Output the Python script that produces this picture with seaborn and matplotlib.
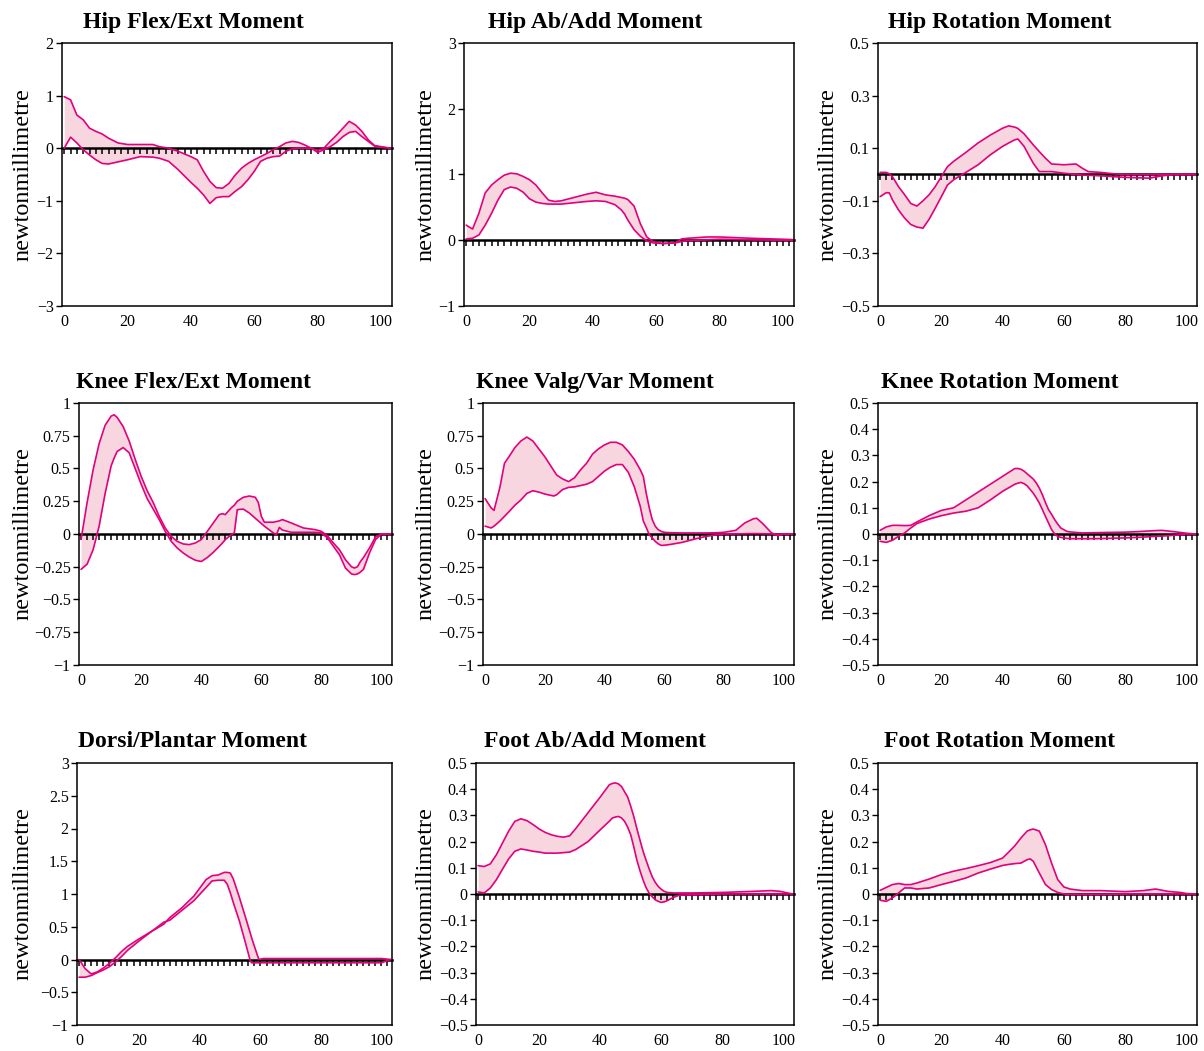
import matplotlib
matplotlib.use("Agg")
import matplotlib.pyplot as plt
import seaborn as sns

# ---- data (x = % of cycle, band = lower/upper curve) ----
hip_flex_x = [0, 2, 4, 6, 8, 10, 12, 14, 17, 20, 24, 28, 30, 33, 36, 40, 42, 44, 46, 48,
              50, 52, 54, 56, 58, 60, 62, 64, 66, 68, 70, 72, 74, 76, 78, 80, 82, 84, 86, 88,
              90, 92, 94, 96, 98, 100, 103]
hip_flex_hi = [0.98, 0.92, 0.63, 0.54, 0.38, 0.32, 0.27, 0.19, 0.10, 0.07, 0.07, 0.07, 0.03, 0.0, -0.06,
               -0.16, -0.22, -0.44, -0.63, -0.75, -0.76, -0.67, -0.51, -0.38, -0.29, -0.22, -0.16, -0.10,
               -0.03, 0.03, 0.10, 0.13, 0.11, 0.06, 0.0, -0.04, 0.0, 0.13, 0.25, 0.38, 0.51, 0.44, 0.32,
               0.16, 0.05, 0.03, 0.0]
hip_flex_lo = [0.0, 0.21, 0.10, -0.03, -0.13, -0.22, -0.29, -0.30, -0.26, -0.22, -0.16, -0.17, -0.19, -0.25,
               -0.41, -0.65, -0.76, -0.89, -1.05, -0.94, -0.92, -0.92, -0.82, -0.73, -0.60, -0.44, -0.25,
               -0.19, -0.16, -0.15, -0.06, -0.01, 0.0, 0.0, 0.0, -0.08, -0.03, 0.03, 0.11, 0.22, 0.30, 0.32,
               0.22, 0.13, 0.04, 0.02, 0.0]

hip_abd_x = [0, 2, 4, 6, 8, 10, 12, 14, 16, 18, 20, 22, 24, 26, 28, 30, 34, 38, 41, 44,
             47, 49, 50, 51, 53, 55, 57, 59, 62, 66, 68, 70, 76, 80, 90, 100, 103]
hip_abd_hi = [0.23, 0.17, 0.41, 0.72, 0.84, 0.92, 0.99, 1.02, 1.01, 0.97, 0.92, 0.84, 0.72, 0.61, 0.59,
              0.60, 0.65, 0.70, 0.73, 0.69, 0.67, 0.65, 0.64, 0.62, 0.52, 0.25, 0.05, -0.02, -0.05, -0.04,
              0.02, 0.03, 0.05, 0.05, 0.03, 0.015, 0.01]
hip_abd_lo = [0.02, 0.03, 0.08, 0.23, 0.41, 0.61, 0.77, 0.81, 0.79, 0.73, 0.63, 0.58, 0.56, 0.55, 0.55,
              0.55, 0.57, 0.59, 0.60, 0.59, 0.54, 0.46, 0.40, 0.31, 0.16, 0.06, -0.01, -0.04, -0.05, -0.04,
              -0.02, -0.005, 0.005, 0.015, 0.005, 0.0, 0.0]

hip_rot_x = [0, 2, 3, 4, 6, 8, 10, 12, 14, 16, 18, 20, 22, 24, 28, 32, 36, 40, 42, 44,
             45, 47, 50, 52, 54, 56, 60, 64, 66, 68, 72, 76, 80, 88, 92, 96, 100, 103]
hip_rot_hi = [0.008, 0.008, 0.003, -0.008, -0.046, -0.077, -0.11, -0.12, -0.10, -0.077, -0.046, -0.008,
              0.03, 0.05, 0.084, 0.12, 0.15, 0.176, 0.185, 0.18, 0.175, 0.155, 0.113, 0.087, 0.062, 0.04,
              0.037, 0.04, 0.024, 0.011, 0.008, 0.003, 0.0, 0.0, 0.0, 0.0, 0.0, 0.0]
hip_rot_lo = [-0.084, -0.069, -0.07, -0.096, -0.135, -0.166, -0.19, -0.20, -0.204, -0.17, -0.128, -0.084,
              -0.04, -0.02, 0.008, 0.037, 0.075, 0.107, 0.12, 0.132, 0.135, 0.107, 0.043, 0.011, 0.011,
              0.011, 0.005, 0.0, -0.002, -0.003, -0.005, -0.008, -0.011, -0.014, -0.005, 0.0, 0.0, 0.0]

knee_flex_x = [0, 2, 4, 6, 8, 10, 11, 12, 14, 16, 18, 20, 22, 24, 26, 28, 30, 32, 34, 36,
               38, 40, 42, 44, 46, 47, 48, 50, 51, 52, 54, 56, 58, 59, 60, 61, 64, 65, 66, 67,
               70, 74, 78, 80, 82, 84, 86, 88, 90, 91, 92, 93, 94, 96, 98, 100, 103]
knee_flex_hi = [-0.04, 0.24, 0.49, 0.69, 0.83, 0.90, 0.91, 0.89, 0.82, 0.71, 0.57, 0.44, 0.33, 0.24, 0.135,
                0.046, -0.018, -0.056, -0.076, -0.081, -0.069, -0.043, 0.02, 0.084, 0.148, 0.155, 0.148,
                0.20, 0.22, 0.25, 0.28, 0.29, 0.28, 0.24, 0.135, 0.09, 0.09, 0.095, 0.10, 0.11, 0.084,
                0.046, 0.033, 0.02, -0.013, -0.069, -0.12, -0.196, -0.25, -0.26, -0.25, -0.21, -0.18,
                -0.107, -0.023, 0.0, 0.0]
knee_flex_lo = [-0.27, -0.23, -0.12, 0.06, 0.31, 0.52, 0.58, 0.63, 0.66, 0.62, 0.50, 0.38, 0.27, 0.19, 0.11,
                0.02, -0.056, -0.107, -0.145, -0.176, -0.20, -0.21, -0.18, -0.14, -0.094, -0.07, -0.043,
                -0.005, 0.008, 0.186, 0.19, 0.16, 0.12, 0.10, 0.08, 0.06, 0.008, -0.005, 0.05, 0.03, 0.013,
                0.013, 0.013, 0.008, -0.03, -0.094, -0.158, -0.26, -0.305, -0.31, -0.305, -0.29, -0.27,
                -0.145, -0.043, 0.0, 0.0]

knee_valg_x = [0, 2, 3, 5, 6.5, 8, 10, 12, 14, 16, 18, 20, 22, 23, 24, 26, 28, 30, 32, 34,
               36, 38, 40, 42, 44, 46, 48, 50, 52, 53, 54, 55, 56, 57, 58, 59, 60, 62, 66, 70,
               74, 78, 80, 84, 87, 90, 91, 93, 96, 98, 100, 103]
knee_valg_hi = [0.27, 0.20, 0.18, 0.36, 0.54, 0.59, 0.66, 0.71, 0.74, 0.71, 0.65, 0.59, 0.52, 0.485, 0.45,
                0.42, 0.40, 0.43, 0.49, 0.54, 0.61, 0.65, 0.68, 0.70, 0.70, 0.68, 0.63, 0.57, 0.49, 0.44,
                0.31, 0.20, 0.11, 0.06, 0.033, 0.02, 0.013, 0.01, 0.008, 0.008, 0.008, 0.01, 0.013, 0.028,
                0.084, 0.117, 0.12, 0.08, 0.008, -0.01, 0.0, 0.0]
knee_valg_lo = [0.06, 0.046, 0.06, 0.10, 0.135, 0.17, 0.22, 0.26, 0.31, 0.33, 0.32, 0.305, 0.295, 0.29, 0.30,
                0.34, 0.356, 0.36, 0.37, 0.38, 0.40, 0.44, 0.48, 0.51, 0.53, 0.53, 0.47, 0.36, 0.21, 0.10,
                0.05, -0.005, -0.03, -0.056, -0.075, -0.087, -0.086, -0.08, -0.064, -0.04, -0.018, -0.005,
                0.0, 0.0, 0.002, 0.003, 0.003, 0.002, 0.0, -0.005, 0.0, 0.0]

knee_rot_x = [0, 2, 4, 6, 8, 10, 12, 16, 20, 24, 28, 32, 36, 40, 44, 45, 46, 47, 48, 50,
              51, 52, 53, 54, 55, 56, 57, 58, 59, 61, 62, 66, 70, 74, 80, 84, 90, 92, 96, 100, 103]
knee_rot_hi = [0.014, 0.027, 0.033, 0.033, 0.032, 0.033, 0.046, 0.07, 0.09, 0.10, 0.13, 0.16, 0.19, 0.22,
               0.25, 0.25, 0.247, 0.24, 0.23, 0.21, 0.195, 0.175, 0.15, 0.12, 0.093, 0.075, 0.055, 0.038,
               0.023, 0.01, 0.008, 0.004, 0.005, 0.006, 0.007, 0.009, 0.013, 0.014, 0.009, 0.003, 0.0]
knee_rot_lo = [-0.028, -0.032, -0.024, -0.009, 0.004, 0.023, 0.04, 0.057, 0.07, 0.08, 0.087, 0.10, 0.13,
               0.163, 0.19, 0.194, 0.197, 0.192, 0.184, 0.156, 0.138, 0.118, 0.093, 0.067, 0.042, 0.017,
               0.0, -0.009, -0.013, -0.017, -0.018, -0.018, -0.018, -0.017, -0.015, -0.013, -0.009,
               -0.008, -0.005, 0.0, 0.0]

dorsi_x = [0, 2, 4, 6, 8, 10, 12, 14, 16, 20, 24, 28, 30, 34, 38, 42, 44, 46, 48, 49,
           50, 51, 53, 55, 56.5, 57, 59, 59.5, 61, 100, 103]
dorsi_hi = [0.0, -0.14, -0.22, -0.19, -0.13, -0.06, 0.025, 0.12, 0.2, 0.32, 0.43, 0.54, 0.64, 0.79, 0.97,
            1.22, 1.28, 1.29, 1.33, 1.33, 1.32, 1.23, 0.95, 0.65, 0.42, 0.34, 0.06, 0.0, 0.015, 0.015, 0.0]
dorsi_lo = [-0.27, -0.27, -0.245, -0.20, -0.16, -0.11, -0.04, 0.045, 0.14, 0.29, 0.43, 0.57, 0.60, 0.75,
            0.90, 1.10, 1.20, 1.21, 1.21, 1.15, 1.02, 0.87, 0.59, 0.26, 0.0, -0.05, -0.05, -0.05, -0.05,
            -0.05, 0.0]

foot_abd_x = [0, 2, 4, 6, 8, 10, 12, 14, 16, 18, 20, 22, 24, 26, 28, 30, 32, 36, 40, 43,
              44, 45, 46, 47, 48, 49, 50, 51, 52, 53, 54, 55, 56, 57, 58, 59, 60, 61, 62, 64,
              66, 70, 80, 90, 96, 99, 103]
foot_abd_hi = [0.108, 0.105, 0.115, 0.15, 0.195, 0.24, 0.277, 0.287, 0.28, 0.265, 0.248, 0.235, 0.226,
               0.22, 0.217, 0.222, 0.25, 0.31, 0.37, 0.417, 0.422, 0.424, 0.42, 0.41, 0.39, 0.37, 0.335,
               0.296, 0.25, 0.207, 0.165, 0.13, 0.097, 0.067, 0.045, 0.029, 0.018, 0.01, 0.006, 0.004,
               0.004, 0.004, 0.006, 0.01, 0.013, 0.01, 0.0]
foot_abd_lo = [0.008, 0.004, 0.023, 0.055, 0.095, 0.134, 0.163, 0.172, 0.168, 0.163, 0.16, 0.156, 0.156,
               0.156, 0.158, 0.16, 0.17, 0.20, 0.245, 0.278, 0.29, 0.294, 0.296, 0.29, 0.277, 0.255, 0.226,
               0.18, 0.13, 0.09, 0.055, 0.025, 0.004, -0.01, -0.022, -0.028, -0.032, -0.03, -0.025,
               -0.013, -0.004, -0.003, 0.0, 0.0, 0.0, 0.0, 0.0]

foot_rot_x = [0, 2, 4, 6, 8, 10, 12, 16, 20, 24, 28, 32, 36, 40, 42, 44, 46, 48, 49, 50,
              52, 54, 56, 58, 60, 62, 66, 72, 80, 86, 90, 94, 98, 100, 103]
foot_rot_hi = [0.014, 0.025, 0.036, 0.04, 0.036, 0.036, 0.042, 0.057, 0.074, 0.087, 0.097, 0.108, 0.12,
               0.137, 0.16, 0.184, 0.214, 0.24, 0.245, 0.248, 0.24, 0.188, 0.118, 0.055, 0.027, 0.019,
               0.013, 0.013, 0.009, 0.013, 0.019, 0.01, 0.006, 0.002, 0.0]
foot_rot_lo = [-0.024, -0.028, -0.015, 0.004, 0.023, 0.023, 0.019, 0.023, 0.036, 0.048, 0.061, 0.08,
               0.095, 0.109, 0.113, 0.116, 0.118, 0.131, 0.134, 0.125, 0.08, 0.036, 0.017, 0.006, 0.0,
               -0.002, -0.002, -0.002, 0.0, 0.0, 0.0, 0.0, 0.0, 0.0, 0.0]

titles = ["Hip Flex/Ext Moment", "Hip Ab/Add Moment", "Hip Rotation Moment",
          "Knee Flex/Ext Moment", "Knee Valg/Var Moment", "Knee Rotation Moment",
          "Dorsi/Plantar Moment", "Foot Ab/Add Moment", "Foot Rotation Moment"]
ylabel = "newtonmillimetre"

yticks_hip_flex = [-3, -2, -1, 0, 1, 2]
yticks_hip_abd = [-1, 0, 1, 2, 3]
yticks_hip_rot = [-0.5, -0.3, -0.1, 0.1, 0.3, 0.5]
yticks_knee = [-1, -0.75, -0.5, -0.25, 0, 0.25, 0.5, 0.75, 1]
yticks_small = [-0.5, -0.4, -0.3, -0.2, -0.1, 0, 0.1, 0.2, 0.3, 0.4, 0.5]
yticks_dorsi = [-1, -0.5, 0, 0.5, 1, 1.5, 2, 2.5, 3]
xticks = [0, 20, 40, 60, 80, 100]

panels = [
    (hip_flex_x, hip_flex_lo, hip_flex_hi, yticks_hip_flex),
    (hip_abd_x, hip_abd_lo, hip_abd_hi, yticks_hip_abd),
    (hip_rot_x, hip_rot_lo, hip_rot_hi, yticks_hip_rot),
    (knee_flex_x, knee_flex_lo, knee_flex_hi, yticks_knee),
    (knee_valg_x, knee_valg_lo, knee_valg_hi, yticks_knee),
    (knee_rot_x, knee_rot_lo, knee_rot_hi, yticks_small),
    (dorsi_x, dorsi_lo, dorsi_hi, yticks_dorsi),
    (foot_abd_x, foot_abd_lo, foot_abd_hi, yticks_small),
    (foot_rot_x, foot_rot_lo, foot_rot_hi, yticks_small),
]

LINE = "#E3007D"
FILL = "#F8D6E0"

sns.set_theme(style="white")
plt.rcParams["font.family"] = ["Liberation Serif", "DejaVu Serif"]
plt.rcParams["axes.unicode_minus"] = True
plt.rcParams["text.color"] = "black"

W, H = 1204, 1051
fig = plt.figure(figsize=(W / 100, H / 100), dpi=100)

# layout in pixels
row_top = [43, 403, 763]
row_bot = [306, 665, 1025]
lefts = [[62, 464, 878], [79, 483, 878], [77, 476, 878]]
rights = [392, 794, 1197]
title_cx = [193, 595, 1000]
title_base = [28, 388, 747]
ylab_cx = [23, 426, 828]


def fmt(v):
    return f"{v:g}".replace("-", "\u2212")


for i, (x, lo, hi, yt) in enumerate(panels):
    r, c = divmod(i, 3)
    l, rt = lefts[r][c], rights[c]
    t, b = row_top[r], row_bot[r]
    ax = fig.add_axes([l / W, 1 - b / H, (rt - l) / W, (b - t) / H])

    ax.fill_between(x, lo, hi, color=FILL, linewidth=0, zorder=1)
    sns.lineplot(x=x, y=hi, ax=ax, color=LINE, linewidth=1.2, estimator=None, zorder=3)
    sns.lineplot(x=x, y=lo, ax=ax, color=LINE, linewidth=1.2, estimator=None, zorder=3)

    ymin, ymax = yt[0], yt[-1]
    ax.set_xlim(-0.7, 103.5)
    ax.set_ylim(ymin, ymax)
    ax.set_yticks(yt)
    ax.set_yticklabels([fmt(v) for v in yt])
    ax.set_xticks(xticks)
    ax.set_xticklabels([fmt(v) for v in xticks])
    ax.set_xlabel("")
    ax.set_ylabel("")
    ax.tick_params(axis="x", length=0, labelsize=11.5, pad=6, labelcolor="black")
    ax.tick_params(axis="y", direction="out", length=4, width=1, labelsize=11.5, pad=2,
                   left=True, color="black", labelcolor="black")
    for sp in ax.spines.values():
        sp.set_color("black")
        sp.set_linewidth(1.1)

    # zero line with hanging ticks (category axis crossing at 0), above the band
    zero = ax.secondary_xaxis((0 - ymin) / (ymax - ymin))
    zero.set_zorder(2)
    zero.patch.set_alpha(0)
    zero.set_alignment("bottom")
    zero.set_xticks(list(range(0, 104, 2)))
    zero.tick_params(axis="x", direction="out", length=4, width=1.1, color="black",
                     labelbottom=False, labeltop=False)
    zero.spines["bottom"].set_linewidth(1.8)
    zero.spines["bottom"].set_color("black")

    fig.text(title_cx[c] / W, 1 - title_base[r] / H, titles[i], ha="center", va="baseline",
             fontsize=17, fontweight="bold", color="black")
    fig.text(ylab_cx[c] / W, 1 - (t + b) / 2 / H, ylabel, rotation=90, ha="center", va="center",
             fontsize=17.5, color="black")

fig.savefig("out.png", dpi=100, facecolor="white")
